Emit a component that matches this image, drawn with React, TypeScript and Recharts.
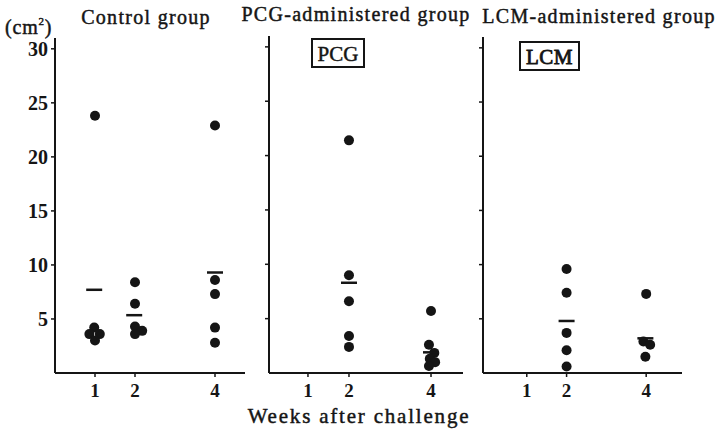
import React from "react";
import { ScatterChart, Scatter, XAxis, YAxis } from "recharts";

// wound area (cm²) per animal, by week after challenge
// small x offsets reproduce the side-by-side dots of the print
const controlDots = [
  { week: 1, area: 23.8 },
  { week: 0.98, area: 4.2 },
  { week: 0.86, area: 3.6 },
  { week: 1.12, area: 3.6 },
  { week: 1, area: 3.0 },
  { week: 2, area: 8.4 },
  { week: 2, area: 6.4 },
  { week: 2, area: 4.3 },
  { week: 2.18, area: 3.9 },
  { week: 2, area: 3.6 },
  { week: 4, area: 22.9 },
  { week: 4, area: 8.6 },
  { week: 4, area: 7.3 },
  { week: 4, area: 4.2 },
  { week: 4, area: 2.8 },
];
const controlMeans = [
  { week: 0.98, area: 7.7 },
  { week: 1.98, area: 5.35 },
  { week: 4, area: 9.3 },
];

const pcgDots = [
  { week: 2, area: 21.4 },
  { week: 2, area: 9.0 },
  { week: 2, area: 6.6 },
  { week: 2, area: 3.4 },
  { week: 2, area: 2.4 },
  { week: 4, area: 5.7 },
  { week: 3.95, area: 2.6 },
  { week: 4.08, area: 1.85 },
  { week: 3.97, area: 1.3 },
  { week: 4.1, area: 1.0 },
  { week: 3.95, area: 0.65 },
];
const pcgMeans = [
  { week: 2, area: 8.3 },
  { week: 4, area: 1.9 },
];

const lcmDots = [
  { week: 2, area: 9.6 },
  { week: 2, area: 7.4 },
  { week: 2, area: 3.7 },
  { week: 2, area: 2.1 },
  { week: 2, area: 0.6 },
  { week: 4, area: 7.3 },
  { week: 3.93, area: 2.9 },
  { week: 4.1, area: 2.6 },
  { week: 3.98, area: 1.5 },
];
const lcmMeans = [
  { week: 2, area: 4.8 },
  { week: 3.98, area: 3.2 },
];

const weekTicks = [1, 2, 4];
const areaTicks = [5, 10, 15, 20, 25, 30];

const ink = "#151515";
const serif = "'Liberation Serif', 'DejaVu Serif', serif";

const Dot = (p: any) => <circle cx={p.cx} cy={p.cy} r={5} fill={ink} />;
const Dash = (p: any) => (
  <line x1={p.cx - 8} x2={p.cx + 8} y1={p.cy} y2={p.cy} stroke={ink} strokeWidth={2.5} />
);

type PanelProps = {
  left: number;
  width: number;
  yWidth: number;
  right: number;
  top: number;
  xDomain: [number, number];
  labels: boolean;
  dots: { week: number; area: number }[];
  means: { week: number; area: number }[];
};

const Panel = ({ left, width, yWidth, right, top, xDomain, labels, dots, means }: PanelProps) => (
  <div style={{ position: "absolute", left, top: 0 }}>
    <ScatterChart width={width} height={433} margin={{ top, right, bottom: 30, left: 0 }}>
      <XAxis
        type="number"
        dataKey="week"
        domain={xDomain}
        ticks={weekTicks}
        allowDataOverflow
        height={30}
        axisLine={{ stroke: ink, strokeWidth: 2 }}
        tickLine={{ stroke: ink, strokeWidth: 1.5 }}
        tickSize={4}
        tickMargin={7}
        tick={{ fontFamily: serif, fontSize: 19, fontWeight: 700, fill: ink }}
      />
      <YAxis
        type="number"
        dataKey="area"
        domain={[0, 31]}
        ticks={areaTicks}
        allowDataOverflow
        width={yWidth}
        axisLine={{ stroke: ink, strokeWidth: 2 }}
        tickLine={{ stroke: ink, strokeWidth: 1.5 }}
        tickSize={4}
        tickMargin={3}
        tickFormatter={labels ? undefined : () => ""}
        tick={{ fontFamily: serif, fontSize: 20, fontWeight: 700, fill: ink }}
      />
      <Scatter data={dots} shape={Dot} isAnimationActive={false} />
      <Scatter data={means} shape={Dash} isAnimationActive={false} />
    </ScatterChart>
  </div>
);

export default function App() {
  // regular serif with a thin outline, closer to the heavy scanned print
  const title = {
    fontFamily: serif,
    fontSize: 20,
    fill: ink,
    stroke: ink,
    strokeWidth: 0.45,
    letterSpacing: 1.3,
  };
  return (
    <div style={{ position: "absolute", left: 0, top: 0, width: 718, height: 433, background: "#fff" }}>
      <Panel left={0} width={250} yWidth={55} right={5} top={38} xDomain={[0, 4.75]} labels dots={controlDots} means={controlMeans} />
      <Panel left={250} width={220} yWidth={19} right={7} top={36} xDomain={[0.05, 4.78]} labels={false} dots={pcgDots} means={pcgMeans} />
      <Panel left={470} width={248} yWidth={13} right={36} top={37} xDomain={[-0.1, 4.9]} labels={false} dots={lcmDots} means={lcmMeans} />
      <svg width={718} height={433} style={{ position: "absolute", left: 0, top: 0, pointerEvents: "none" }}>
        <text x={5} y={34} style={{ ...title, fontSize: 20, letterSpacing: 0.8 }}>
          (cm<tspan fontSize={11} dy={-9}>2</tspan><tspan dy={9}>)</tspan>
        </text>
        <text x={146} y={24} textAnchor="middle" style={title}>Control group</text>
        <text x={356} y={21} textAnchor="middle" style={title}>PCG-administered group</text>
        <text x={599} y={23} textAnchor="middle" style={title}>LCM-administered group</text>
        <rect x={312} y={39} width={52} height={28} fill="none" stroke={ink} strokeWidth={2} />
        <text x={338} y={61} textAnchor="middle" style={{ ...title, fontSize: 21, letterSpacing: 0 }}>PCG</text>
        <rect x={520} y={42} width={59} height={28} fill="none" stroke={ink} strokeWidth={2} />
        <text x={549.5} y={64} textAnchor="middle" style={{ ...title, fontSize: 21, strokeWidth: 0.8, letterSpacing: 0.5 }}>LCM</text>
        <text x={359} y={423} textAnchor="middle" style={{ ...title, fontSize: 21, letterSpacing: 1.8 }}>Weeks after challenge</text>
      </svg>
    </div>
  );
}
